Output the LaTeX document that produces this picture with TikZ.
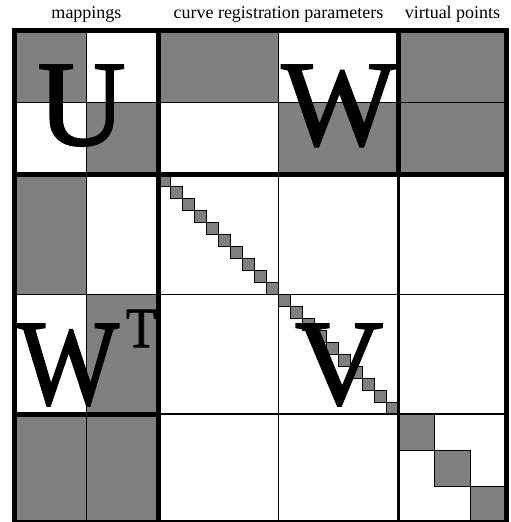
\documentclass[tikz,border=0pt]{standalone}
\usepackage{fontspec}
\setmainfont{Liberation Serif}
\newfontfamily\grande[FakeBold=1.6]{Liberation Serif}

\tikzset{
  gris/.style={fill=gray},
  fina/.style={line width=1.5pt},
  media/.style={line width=2.2pt},
  gruesa/.style={line width=4.5pt},
  borde/.style={line width=5pt},
  casilla/.style={fill=gray, draw=black, line width=1pt},
  bloque/.style={fill=gray, draw=black, line width=1.4pt},
  letra/.style={anchor=base, inner sep=0pt, font=\grande\fontsize{122}{122}\selectfont},
  titulo/.style={anchor=base, inner sep=0pt, font=\fontsize{18}{18}\selectfont}
}

\begin{document}
\begin{tikzpicture}[x=12pt,y=-12pt]

\useasboundingbox (-1.208,-2.525) rectangle (41.375,40.975);

% bloques grises
\fill[gris] (0,0) rectangle (6,6);
\fill[gris] (6,6) rectangle (12,12);
\fill[gris] (12,0) rectangle (22,6);
\fill[gris] (22,6) rectangle (32,12);
\fill[gris] (32,0) rectangle (41,12);
\fill[gris] (0,12) rectangle (6,22);
\fill[gris] (6,22) rectangle (12,32);
\fill[gris] (0,32) rectangle (12,41);

% divisiones finas
\draw[fina] (6,0) -- (6,41);
\draw[fina] (22,0) -- (22,41);
\draw[fina] (0,6) -- (41,6);
\draw[fina] (0,22) -- (41,22);

% diagonal de V
\foreach \i in {0,...,19}
  \filldraw[casilla] (12+\i,12+\i) rectangle (13+\i,13+\i);

% diagonal de puntos virtuales
\foreach \i in {0,1,2}
  \filldraw[bloque] (32+3*\i,32+3*\i) rectangle (35+3*\i,35+3*\i);

% letras
\node[letra] (U) at (5.6,9.55) {U};
\node[letra] (W) at (27.05,9.55) {W};
\node[letra, anchor=base west] (WT) at (0.25,31.15)
  {\scalebox{0.88}[1]{W\hspace{8pt}\raisebox{57pt}{\fontsize{57}{57}\selectfont T}}};
\node[letra] (V) at (27.05,31.15) {V};

% divisiones gruesas
\draw[gruesa] (12,0) -- (12,41);
\draw[gruesa] (0,12) -- (41,12);
\draw[media] (32,12) -- (32,41);
\draw[media] (12,32) -- (41,32);
\draw[gruesa] (32,0) -- (32,12);
\draw[gruesa] (0,32) -- (12,32);
\draw[borde] (0,0) rectangle (41,41);

% titulos
\node[titulo] (map) at (6,-1) {mappings};
\node[titulo] (crp) at (22,-1) {curve registration parameters};
\node[titulo] (vp) at (36.5,-1) {virtual points};

\end{tikzpicture}
\end{document}
